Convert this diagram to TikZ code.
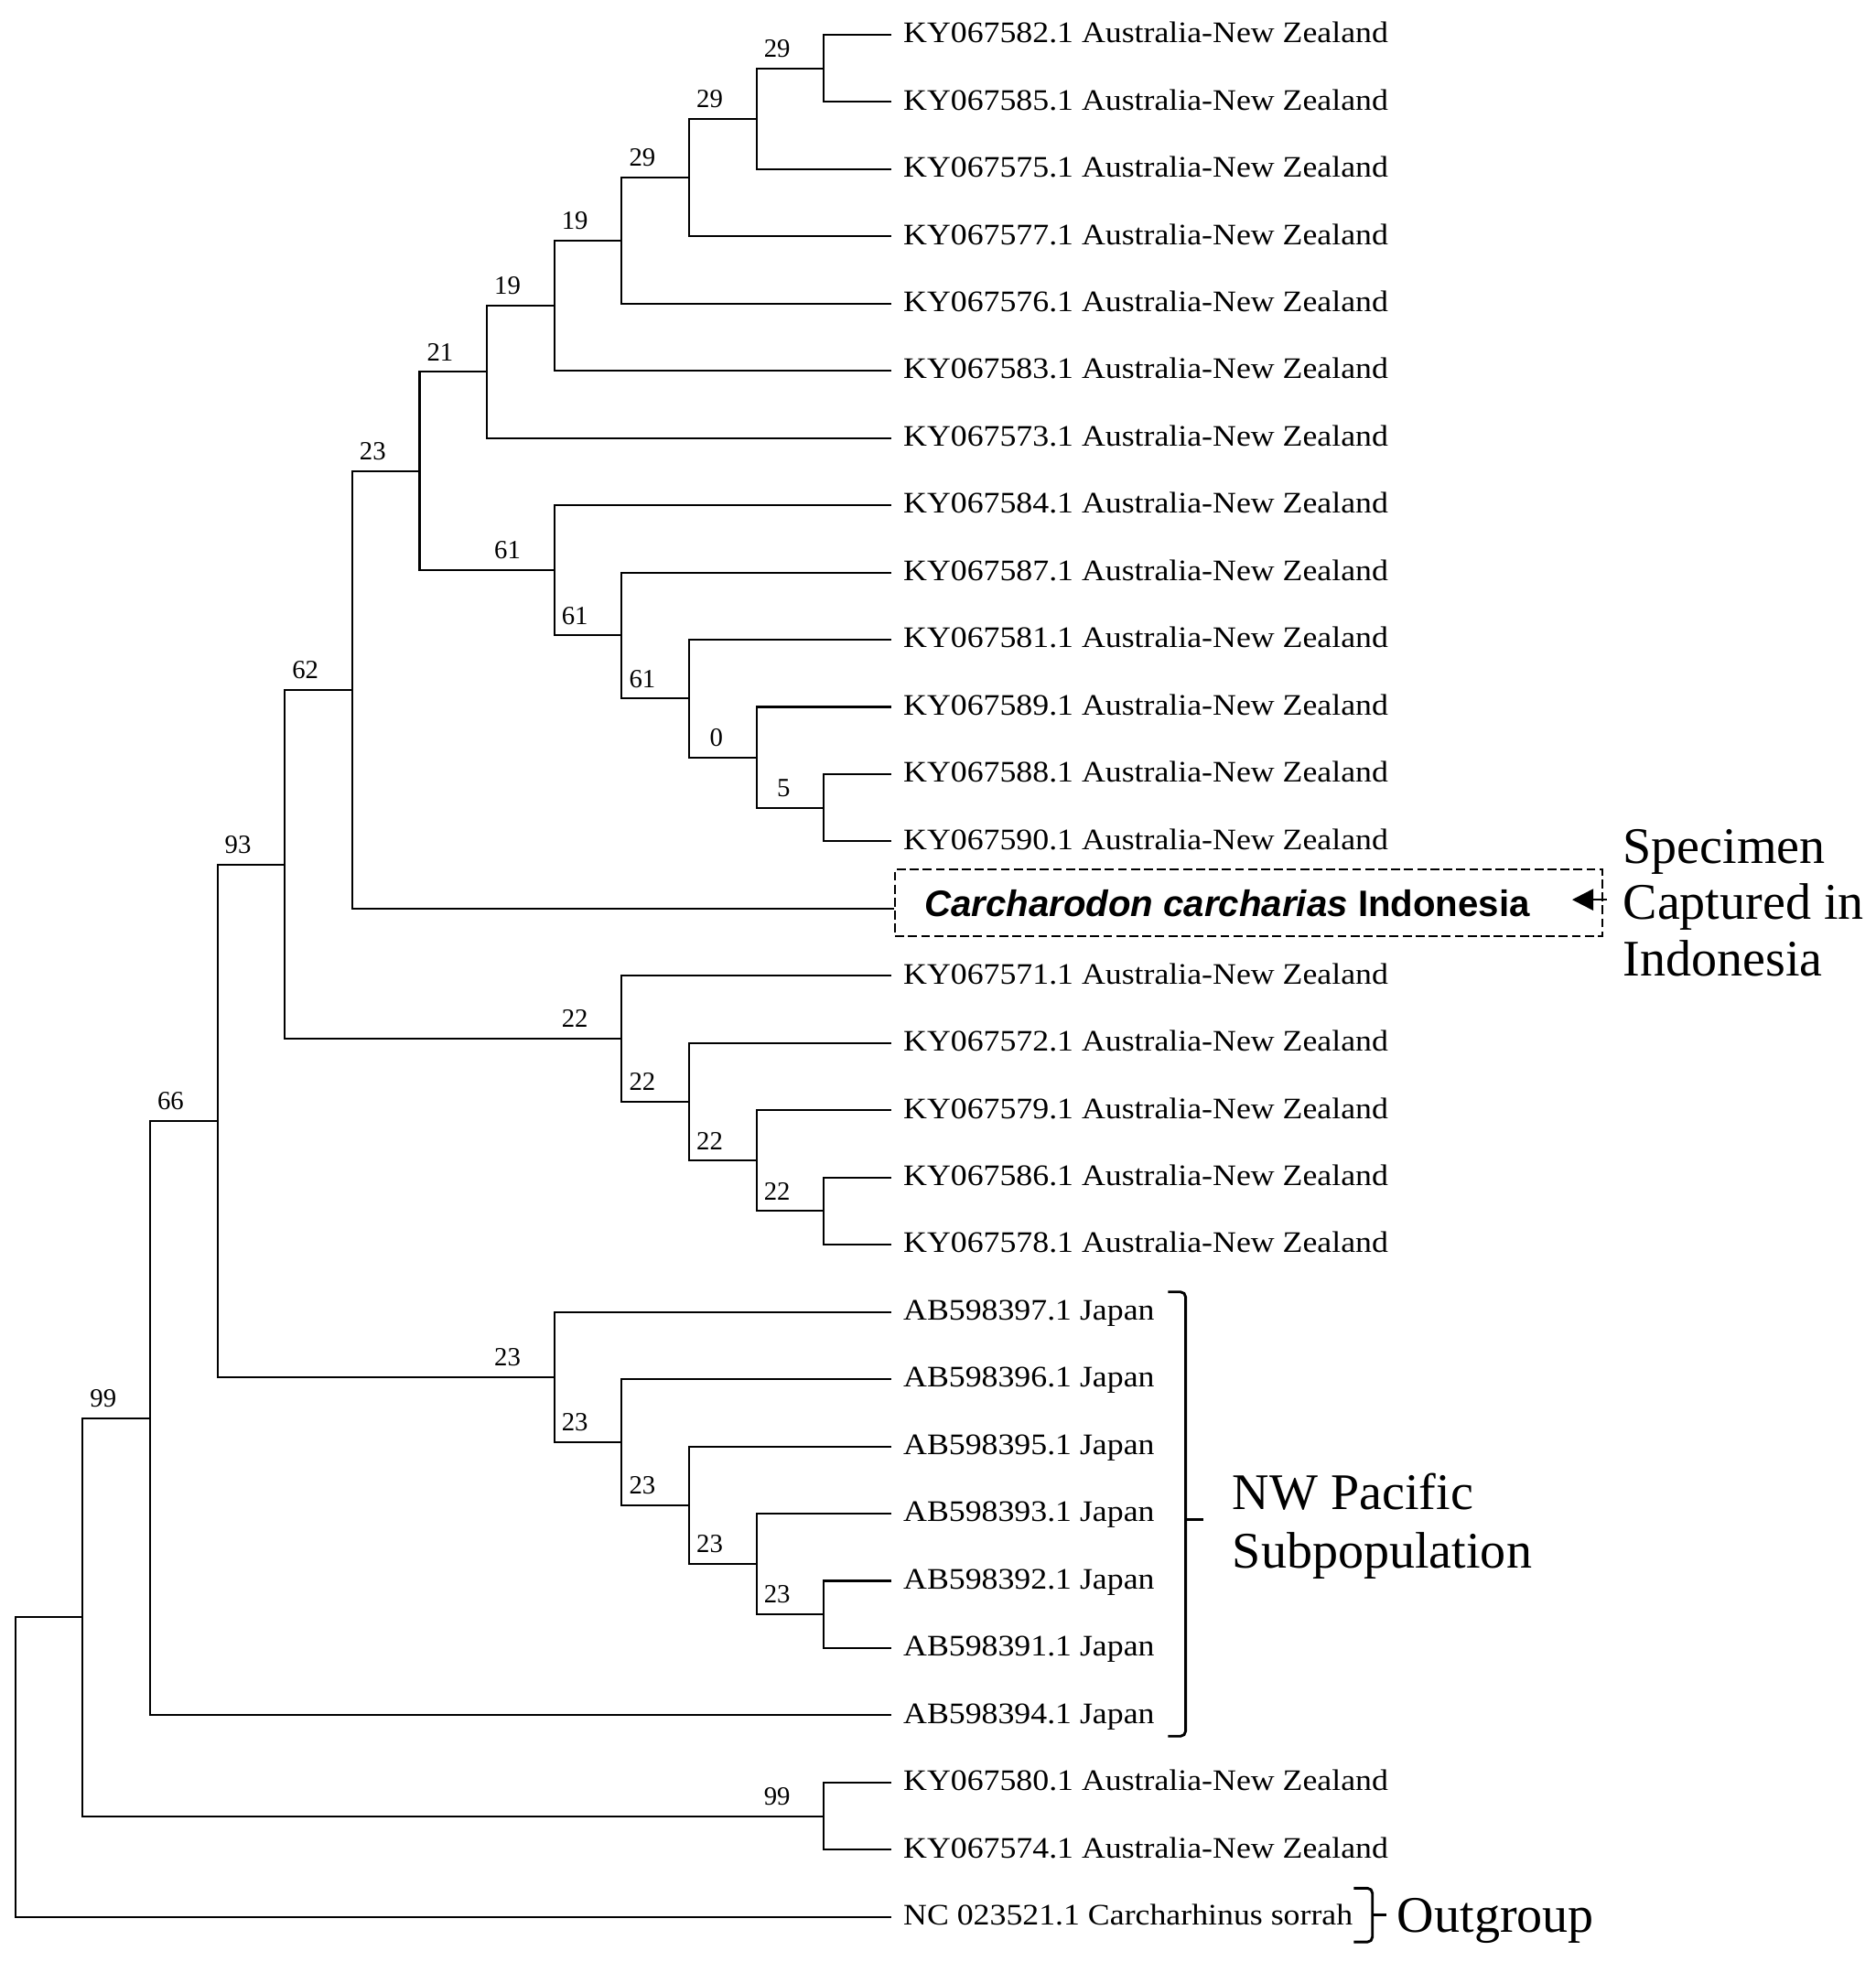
\documentclass[tikz,border=0pt]{standalone}
\usepackage{fontspec}
\setmainfont{Liberation Serif}
\newfontfamily\leaffont[FakeStretch=1.1]{Liberation Serif}
\newfontfamily\sansbold{Liberation Sans}
\usetikzlibrary{arrows.meta}
\begin{document}
\begin{tikzpicture}[x=0.5pt,y=-0.5pt,
  branch/.style={line width=0.75pt},
  leaf/.style={anchor=west, inner xsep=4.65pt, inner ysep=0pt, text height=8.5pt, text depth=2.1pt,
    font=\leaffont\fontsize{11.9}{14}\selectfont},
  bs/.style={anchor=base east, inner sep=0pt, font=\fontsize{10.5}{12}\selectfont},
  biglab/.style={anchor=base west, inner sep=0pt, font=\fontsize{20.5}{23}\selectfont},
  brace/.style={line width=1.05pt, rounded corners=2pt},
  ccbox/.style={draw, line width=0.9pt, dash pattern=on 3.6pt off 1.6pt, anchor=west,
    minimum width=282.6pt, minimum height=26.65pt, inner sep=0pt}]
\fill[white] (0,0) rectangle (1499,1568);
\useasboundingbox (0,0) rectangle (1499,1568);
% ---------- leaves ----------
\node[leaf] (L1)  at (712.25,27.7)   {KY067582.1 Australia-New Zealand};
\node[leaf] (L2)  at (712.25,81.43)  {KY067585.1 Australia-New Zealand};
\node[leaf] (L3)  at (712.25,135.15) {KY067575.1 Australia-New Zealand};
\node[leaf] (L4)  at (712.25,188.88) {KY067577.1 Australia-New Zealand};
\node[leaf] (L5)  at (712.25,242.6)  {KY067576.1 Australia-New Zealand};
\node[leaf] (L6)  at (712.25,296.33) {KY067583.1 Australia-New Zealand};
\node[leaf] (L7)  at (712.25,350.05) {KY067573.1 Australia-New Zealand};
\node[leaf] (L8)  at (712.25,403.78) {KY067584.1 Australia-New Zealand};
\node[leaf] (L9)  at (712.25,457.5)  {KY067587.1 Australia-New Zealand};
\node[leaf] (L10) at (712.25,511.23) {KY067581.1 Australia-New Zealand};
\node[leaf] (L11) at (712.25,564.95) {KY067589.1 Australia-New Zealand};
\node[leaf] (L12) at (712.25,618.68) {KY067588.1 Australia-New Zealand};
\node[leaf] (L13) at (712.25,672.4)  {KY067590.1 Australia-New Zealand};
\coordinate (L14) at (714.4,726.13);
\node[leaf] (L15) at (712.25,779.85) {KY067571.1 Australia-New Zealand};
\node[leaf] (L16) at (712.25,833.58) {KY067572.1 Australia-New Zealand};
\node[leaf] (L17) at (712.25,887.3)  {KY067579.1 Australia-New Zealand};
\node[leaf] (L18) at (712.25,941.03) {KY067586.1 Australia-New Zealand};
\node[leaf] (L19) at (712.25,994.75) {KY067578.1 Australia-New Zealand};
\node[leaf] (L20) at (712.25,1048.48) {AB598397.1 Japan};
\node[leaf] (L21) at (712.25,1102.2)  {AB598396.1 Japan};
\node[leaf] (L22) at (712.25,1155.93) {AB598395.1 Japan};
\node[leaf] (L23) at (712.25,1209.65) {AB598393.1 Japan};
\node[leaf] (L24) at (712.25,1263.38) {AB598392.1 Japan};
\node[leaf] (L25) at (712.25,1317.1)  {AB598391.1 Japan};
\node[leaf] (L26) at (712.25,1370.83) {AB598394.1 Japan};
\node[leaf] (L27) at (712.25,1424.55) {KY067580.1 Australia-New Zealand};
\node[leaf] (L28) at (712.25,1478.28) {KY067574.1 Australia-New Zealand};
\node[leaf] (L29) at (712.25,1532.0)  {NC 023521.1 Carcharhinus sorrah};
% ---------- internal nodes ----------
\coordinate (a1) at (658.4,54.57);
\coordinate (a2) at (604.55,94.86);
\coordinate (a3) at (550.7,141.87);
\coordinate (a4) at (496.85,192.24);
\coordinate (a5) at (443.0,244.28);
\coordinate (a6) at (389.15,297.17);
\coordinate (b5) at (658.4,645.54);
\coordinate (b4) at (604.55,605.25);
\coordinate (b3) at (550.7,558.24);
\coordinate (b2) at (496.85,507.87);
\coordinate (b1) at (443.0,455.83);
\coordinate (c1) at (335.3,376.5);
\coordinate (c2) at (281.45,551.32);
\coordinate (d4) at (658.4,967.89);
\coordinate (d3) at (604.55,927.6);
\coordinate (d2) at (550.7,880.59);
\coordinate (d1) at (496.85,830.22);
\coordinate (e1) at (227.6,690.77);
\coordinate (f5) at (658.4,1290.24);
\coordinate (f4) at (604.55,1249.95);
\coordinate (f3) at (550.7,1202.94);
\coordinate (f2) at (496.85,1152.57);
\coordinate (f1) at (443.0,1100.53);
\coordinate (g1) at (173.75,895.65);
\coordinate (h1) at (119.9,1133.24);
\coordinate (k1) at (658.4,1451.42);
\coordinate (m1) at (66.05,1292.33);
\coordinate (r)  at (12.2,1412.17);
% ---------- branches ----------
\draw[branch] (a1) |- (L1.west);  \draw[branch] (a1) |- (L2.west);
\draw[branch] (a2) |- (a1);       \draw[branch] (a2) |- (L3.west);
\draw[branch] (a3) |- (a2);       \draw[branch] (a3) |- (L4.west);
\draw[branch] (a4) |- (a3);       \draw[branch] (a4) |- (L5.west);
\draw[branch] (a5) |- (a4);       \draw[branch] (a5) |- (L6.west);
\draw[branch] (a6) |- (a5);       \draw[branch] (a6) |- (L7.west);
\draw[branch] (b5) |- (L12.west); \draw[branch] (b5) |- (L13.west);
\draw[branch] (b4) |- (L11.west); \draw[branch] (b4) |- (b5);
\draw[branch] (b3) |- (L10.west); \draw[branch] (b3) |- (b4);
\draw[branch] (b2) |- (L9.west);  \draw[branch] (b2) |- (b3);
\draw[branch] (b1) |- (L8.west);  \draw[branch] (b1) |- (b2);
\draw[branch] (c1) |- (a6);       \draw[branch] (c1) |- (b1);
\draw[branch] (c2) |- (c1);       \draw[branch] (c2) |- (L14);
\draw[branch] (d4) |- (L18.west); \draw[branch] (d4) |- (L19.west);
\draw[branch] (d3) |- (L17.west); \draw[branch] (d3) |- (d4);
\draw[branch] (d2) |- (L16.west); \draw[branch] (d2) |- (d3);
\draw[branch] (d1) |- (L15.west); \draw[branch] (d1) |- (d2);
\draw[branch] (e1) |- (c2);       \draw[branch] (e1) |- (d1);
\draw[branch] (f5) |- (L24.west); \draw[branch] (f5) |- (L25.west);
\draw[branch] (f4) |- (L23.west); \draw[branch] (f4) |- (f5);
\draw[branch] (f3) |- (L22.west); \draw[branch] (f3) |- (f4);
\draw[branch] (f2) |- (L21.west); \draw[branch] (f2) |- (f3);
\draw[branch] (f1) |- (L20.west); \draw[branch] (f1) |- (f2);
\draw[branch] (g1) |- (e1);       \draw[branch] (g1) |- (f1);
\draw[branch] (h1) |- (g1);       \draw[branch] (h1) |- (L26.west);
\draw[branch] (k1) |- (L27.west); \draw[branch] (k1) |- (L28.west);
\draw[branch] (m1) |- (h1);       \draw[branch] (m1) |- (k1);
\draw[branch] (r) |- (m1);        \draw[branch] (r) |- (L29.west);
% ---------- bootstrap labels ----------
\node[bs] (la1) at ([shift={(-26.5,-9)}]a1) {29};
\node[bs] (la2) at ([shift={(-26.5,-9)}]a2) {29};
\node[bs] (la3) at ([shift={(-26.5,-9)}]a3) {29};
\node[bs] (la4) at ([shift={(-26.5,-9)}]a4) {19};
\node[bs] (la5) at ([shift={(-26.5,-9)}]a5) {19};
\node[bs] (la6) at ([shift={(-26.5,-9)}]a6) {21};
\node[bs] (lb1) at ([shift={(-26.5,-9)}]b1) {61};
\node[bs] (lb2) at ([shift={(-26.5,-9)}]b2) {61};
\node[bs] (lb3) at ([shift={(-26.5,-9)}]b3) {61};
\node[bs] (lb4) at ([shift={(-26.5,-9)}]b4) {0};
\node[bs] (lb5) at ([shift={(-26.5,-9)}]b5) {5};
\node[bs] (lc1) at ([shift={(-26.5,-9)}]c1) {23};
\node[bs] (lc2) at ([shift={(-26.5,-9)}]c2) {62};
\node[bs] (ld1) at ([shift={(-26.5,-9)}]d1) {22};
\node[bs] (ld2) at ([shift={(-26.5,-9)}]d2) {22};
\node[bs] (ld3) at ([shift={(-26.5,-9)}]d3) {22};
\node[bs] (ld4) at ([shift={(-26.5,-9)}]d4) {22};
\node[bs] (le1) at ([shift={(-26.5,-9)}]e1) {93};
\node[bs] (lf1) at ([shift={(-26.5,-9)}]f1) {23};
\node[bs] (lf2) at ([shift={(-26.5,-9)}]f2) {23};
\node[bs] (lf3) at ([shift={(-26.5,-9)}]f3) {23};
\node[bs] (lf4) at ([shift={(-26.5,-9)}]f4) {23};
\node[bs] (lf5) at ([shift={(-26.5,-9)}]f5) {23};
\node[bs] (lg1) at ([shift={(-26.5,-9)}]g1) {66};
\node[bs] (lh1) at ([shift={(-26.5,-9)}]h1) {99};
\node[bs] (lk1) at ([shift={(-26.5,-9)}]k1) {99};
% ---------- Indonesia specimen ----------
\node[ccbox] (box) at (714.4,721.35) {};
\node[anchor=base west, inner sep=0pt, font=\sansbold\bfseries\fontsize{14.7}{17}\selectfont] (cc)
  at (738.5,732.5) {\textit{Carcharodon carcharias} Indonesia};
\coordinate (atail) at (1284.5,719);
\coordinate (ahead) at (1256.4,719);
\draw[line width=0.9pt, -{Triangle[length=8.5pt,width=8.5pt]}] (atail) -- (ahead);
\node[biglab] (sp1) at (1296.7,689.8) {Specimen};
\node[biglab] (sp2) at (1296.7,734.9) {Captured in};
\node[biglab] (sp3) at (1296.7,780.0) {Indonesia};
% ---------- NW Pacific bracket ----------
\draw[brace] (933.5,1032.5) -- (947.5,1032.5) -- (947.5,1387.5) -- (933.5,1387.5);
\draw[line width=1.05pt] (947.5,1214.5) -- (961.6,1214.5);
\node[biglab] (nw1) at (984.7,1206.5) {NW Pacific};
\node[biglab] (nw2) at (984.7,1252.8) {Subpopulation};
% ---------- Outgroup ----------
\draw[brace] (1082,1509) -- (1096.8,1509) -- (1096.8,1552) -- (1082,1552);
\draw[line width=1.05pt] (1096.8,1530.6) -- (1108,1530.6);
\node[biglab] (og) at (1116.3,1544.2) {Outgroup};
\end{tikzpicture}
\end{document}
